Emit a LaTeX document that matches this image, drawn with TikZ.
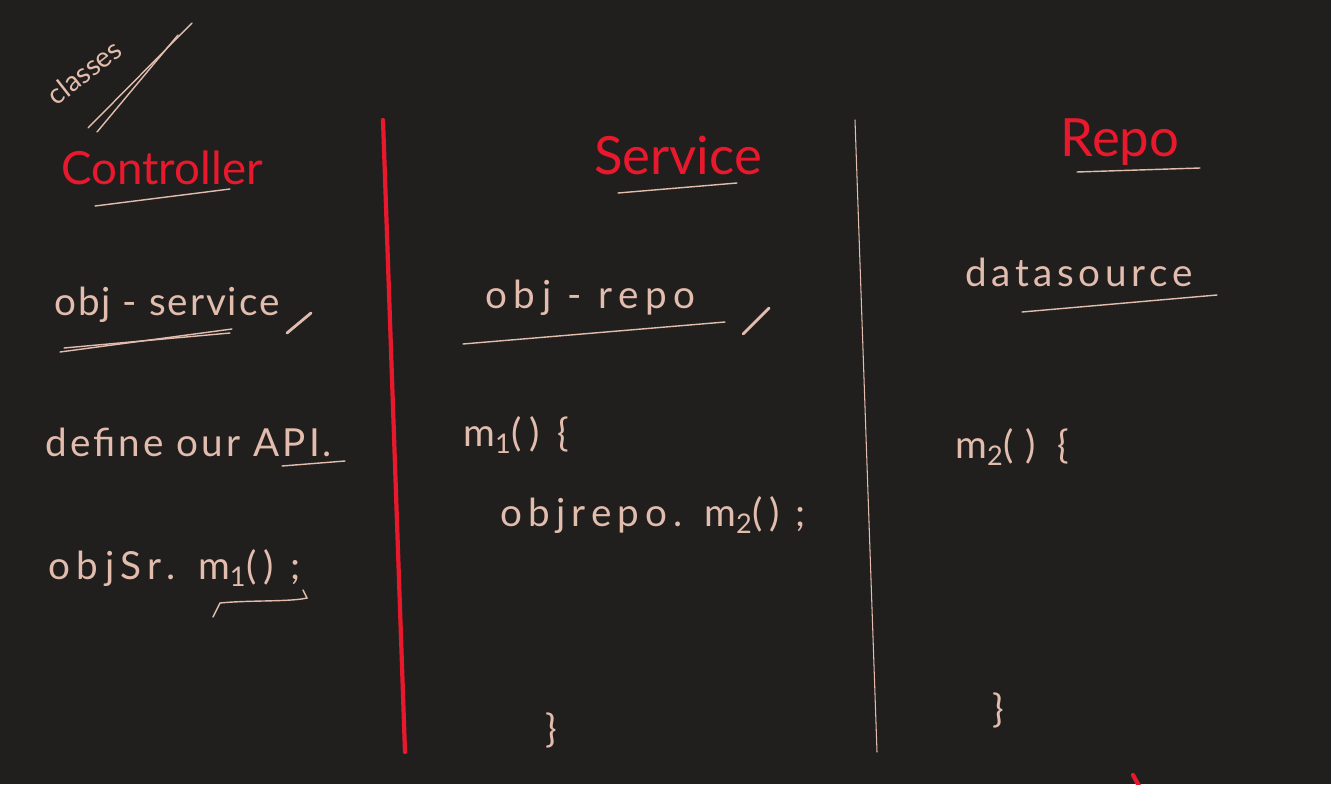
\documentclass[tikz,border=0pt]{standalone}
\usepackage{fontspec}
\setmainfont{Lato}
\usetikzlibrary{positioning}
\definecolor{board}{HTML}{201F1E}
\definecolor{chalk}{HTML}{E2BCAD}
\definecolor{marker}{HTML}{E8192C}

\begin{document}
\begin{tikzpicture}[
  x=0.02cm, y=-0.02cm,
  note/.style={text=chalk, inner sep=0pt, anchor=west,
               font=\fontsize{22}{26}\selectfont\addfontfeature{LetterSpace=#1}},
  note/.default=0,
  head/.style={text=marker, font=\fontsize{30}{34}\selectfont, inner sep=0pt},
  stroke/.style={draw=chalk, line width=0.8pt, line cap=round},
  redline/.style={draw=marker, line width=2.4pt, line cap=round}
]
  \useasboundingbox (0,0) rectangle (1331,784);
  \fill[board] (0,0) rectangle (1331,784);

  \node[text=chalk, inner sep=0pt, rotate=38, font=\fontsize{16}{18}\selectfont] (classes) at (84,72) {classes};
  \coordinate (cl1) at (88,128);  \coordinate (cl2) at (192,23);
  \coordinate (cl3) at (97,132);  \coordinate (cl4) at (178,35);
  \draw[stroke] (cl1) -- (cl2);
  \draw[stroke] (cl3) -- (cl4);

  \node[head, font=\fontsize{26}{30}\selectfont] (ctrl) at (162,168) {Controller};
  \node[head] (serv) at (678,155) {Service};
  \node[head] (repo) at (1120,142) {Repo};
  \draw[stroke] (95,206) -- (230,189);
  \draw[stroke] (618,193) -- (737,183);
  \draw[stroke] (1077,172) -- (1200,168);

  \draw[redline] (383,120) -- (405,752);
  \draw[stroke, line width=0.6pt] (855,120) -- (877,752);
  \draw[redline] (1133,775) -- (1139,786);

  \node[note=5] (objsvc) at (54,305) {obj - service};
  \draw[stroke] (60,352) -- (232,329);
  \draw[stroke] (64,348) -- (230,333);
  \draw[stroke, line width=1.6pt] (287,333) -- (311,313);
  \node[note=8] (api) at (45,442) {define our API.};
  \draw[stroke] (282,466) -- (345,461);
  \node[note=17] (call) at (48,568) {objSr. m\textsubscript{1}() ;};
  \draw[stroke] (213,617) -- (220,603) .. controls (250,600) and (290,602) .. (307,598) -- (303,590);

  \node[note=17] (objrepo) at (485,298) {obj - repo};
  \draw[stroke] (463,344) -- (725,322);
  \draw[stroke, line width=1.6pt] (743,334) -- (769,308);
  \node[note=20] (m1) at (463,435) {m\textsubscript{1}() \{};
  \node[note=16] (inner) at (500,515) {objrepo. m\textsubscript{2}() ;};
  \node[note] (close1) at (545,730) {\}};

  \node[note=12] (ds) at (965,272) {datasource};
  \draw[stroke] (1022,312) -- (1217,295);
  \node[note=30] (m2) at (955,447) {m\textsubscript{2}() \{};
  \node[note] (close2) at (992,710) {\}};
\end{tikzpicture}
\end{document}
